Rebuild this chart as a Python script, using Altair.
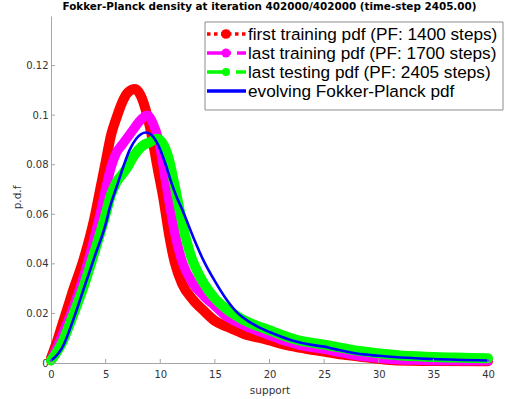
import altair as alt
import pandas as pd

# ---------------- data ----------------
red_x = [0, 0.5, 1, 1.5, 2, 3, 4, 4.5, 5, 5.5, 6, 6.5, 7, 7.7, 8.2, 8.8, 9.3, 9.7, 10.3, 10.8, 11.3,
         12, 13, 14, 15, 16, 17, 18, 19, 20, 21, 22, 23, 24, 25, 26, 27, 28, 29, 30, 31, 33, 35, 40]
red_y = [0.002, 0.008, 0.015, 0.022, 0.029, 0.042, 0.059, 0.070, 0.081, 0.092, 0.099, 0.105, 0.109, 0.1105,
         0.108, 0.100, 0.090, 0.080, 0.066, 0.052, 0.041, 0.032, 0.0255, 0.021, 0.017, 0.0148, 0.013,
         0.0112, 0.0102, 0.0091, 0.0078, 0.0068, 0.006, 0.0052, 0.0046, 0.0038, 0.0032, 0.0027, 0.0022,
         0.0017, 0.0012, 0.0009, 0.0008, 0.0007]

mag_x = [0, 1, 2, 3, 4, 4.5, 5, 5.5, 6, 6.5, 7, 7.5, 8, 8.8, 9.3, 9.9, 10.4, 10.9, 11.4, 12, 13, 14,
         15, 16, 17, 18, 19, 20, 21, 22, 23, 24, 25, 26, 27, 28, 29, 30, 31, 33, 35, 40]
mag_y = [0.001, 0.011, 0.022, 0.035, 0.051, 0.060, 0.070, 0.079, 0.085, 0.088, 0.091, 0.094, 0.097,
         0.100, 0.097, 0.089, 0.076, 0.063, 0.051, 0.041, 0.032, 0.027, 0.023, 0.019, 0.0165, 0.0145,
         0.0128, 0.0112, 0.0095, 0.0082, 0.007, 0.0062, 0.0056, 0.0046, 0.0038, 0.003, 0.0025, 0.002,
         0.0015, 0.0012, 0.001, 0.0009]

grn_x = [0, 1, 2, 3, 4, 5, 5.5, 6, 6.5, 7, 7.5, 8, 8.5, 9, 9.7, 10.3, 10.8, 11.3, 11.8, 12.3, 12.9,
         13.5, 14, 15, 16, 17, 18, 19, 20, 21, 22, 23, 24, 25, 26, 27, 28, 29, 30, 31, 32, 33, 34, 35,
         37, 40]
grn_y = [0.001, 0.008, 0.019, 0.031, 0.045, 0.060, 0.068, 0.073, 0.076, 0.079, 0.083, 0.086, 0.088,
         0.089, 0.0905, 0.088, 0.082, 0.072, 0.061, 0.051, 0.042, 0.036, 0.032, 0.026, 0.022, 0.019,
         0.0165, 0.0148, 0.0132, 0.0115, 0.010, 0.0088, 0.0081, 0.0074, 0.0066, 0.0058, 0.005, 0.0045,
         0.0039, 0.0034, 0.003, 0.0028, 0.0026, 0.0024, 0.0022, 0.0019]

blu_x = [0, 0.5, 1, 2, 3, 4, 5, 5.4, 6, 6.6, 7.2, 7.8, 8.7, 9.2, 9.8, 10.5, 11, 11.5, 12, 13, 14, 15,
         16, 17, 18, 19, 20, 22, 24, 25, 26, 28, 30, 32, 35, 40]
blu_y = [0.001, 0.003, 0.006, 0.017, 0.030, 0.043, 0.056, 0.063, 0.071, 0.079, 0.086, 0.0905, 0.093,
         0.092, 0.088, 0.080, 0.073, 0.067, 0.062, 0.051, 0.041, 0.033, 0.026, 0.0205, 0.017, 0.0145,
         0.0125, 0.0092, 0.0072, 0.0066, 0.0056, 0.0038, 0.0029, 0.0022, 0.0016, 0.001]

series_labels = ["first training pdf (PF: 1400 steps)",
                 "last training pdf (PF: 1700 steps)",
                 "last testing pdf (PF: 2405 steps)",
                 "evolving Fokker-Planck pdf"]
series_colors = ["#ff0000", "#ff00ff", "#00ff00", "#0000ff"]

x_ticks = [0, 5, 10, 15, 20, 25, 30, 35, 40]
y_ticks = [0, 0.02, 0.04, 0.06, 0.08, 0.1, 0.12]

title_text = "Fokker-Planck density at iteration 402000/402000 (time-step 2405.00)"

# ---------------- chart ----------------
W, H = 437, 347
AX = "#a6a6a6"
LBL = "#333333"

xs = alt.Scale(domain=[0, 40], nice=False)
ys = alt.Scale(domain=[0, 0.14], nice=False)

x_axis = alt.Axis(values=x_ticks, format="~g", title="support", grid=False, ticks=False, tickSize=0,
                  domainColor=AX, labelColor=LBL, labelFont="DejaVu Sans", labelFontSize=10,
                  labelFlush=False, labelOverlap=False,
                  labelPadding=6, titleFont="DejaVu Sans", titleFontSize=10.5, titleFontWeight="normal",
                  titleColor=LBL, titleY=27, titleBaseline="middle")
y_axis = alt.Axis(values=y_ticks, format="~g", title="p.d.f", grid=False, ticks=False, tickSize=0,
                  domainColor=AX, labelColor=LBL, labelFont="DejaVu Sans", labelFontSize=10,
                  labelFlush=False, labelOverlap=False,
                  labelPadding=3, titleFont="DejaVu Sans", titleFontSize=10.5, titleFontWeight="normal",
                  titleColor=LBL, titleX=-34, titleY=181, titleBaseline="middle", titleAlign="center")


def curve(xv, yv, color, width):
    df = pd.DataFrame({"x": xv, "y": yv})
    return alt.Chart(df).mark_line(color=color, strokeWidth=width, strokeCap="round",
                                   strokeJoin="round", interpolate="monotone").encode(
        x=alt.X("x:Q", scale=xs, axis=x_axis),
        y=alt.Y("y:Q", scale=ys, axis=y_axis),
    )


layers = [
    curve(red_x, red_y, series_colors[0], 10),
    curve(mag_x, mag_y, series_colors[1], 9.5),
    curve(grn_x, grn_y, series_colors[2], 10),
    curve(blu_x, blu_y, series_colors[3], 2.6),
]

# inward ticks (MATLAB style)
xt = alt.Chart(pd.DataFrame({"x": x_ticks})).mark_rule(color=AX, strokeWidth=1).encode(
    x=alt.X("x:Q", scale=xs, axis=x_axis), y=alt.value(H), y2=alt.value(H - 4))
yt = alt.Chart(pd.DataFrame({"y": y_ticks})).mark_rule(color=AX, strokeWidth=1).encode(
    y=alt.Y("y:Q", scale=ys, axis=y_axis), x=alt.value(0), x2=alt.value(4))
layers += [xt, yt]

# legend box
one = pd.DataFrame({"a": [0]})
box = alt.Chart(one).mark_rect(fill="white", stroke="#8c8c8c", strokeWidth=1).encode(
    x=alt.value(154), x2=alt.value(452), y=alt.value(6), y2=alt.value(94))
layers.append(box)

row_y = [18, 37, 56, 75]
dashes = [[3.5, 3.5], [24, 6], [22, 7], None]
msizes = [95, 80, 65, 0]
for i in range(4):
    kw = dict(color=series_colors[i], strokeWidth=3.6)
    if dashes[i] is not None:
        kw["strokeDash"] = dashes[i]
    layers.append(alt.Chart(one).mark_rule(**kw).encode(
        x=alt.value(156), x2=alt.value(195), y=alt.value(row_y[i])))
    if msizes[i]:
        layers.append(alt.Chart(one).mark_point(filled=True, shape="circle", opacity=1,
                                                color=series_colors[i], size=msizes[i]).encode(
            x=alt.value(175), y=alt.value(row_y[i])))
    layers.append(alt.Chart(pd.DataFrame({"t": [series_labels[i]]})).mark_text(
        align="left", baseline="middle", font="Liberation Sans", fontSize=17.2, color="black").encode(
        x=alt.value(197), y=alt.value(row_y[i] + 0.5), text="t:N"))

chart = alt.layer(*layers).properties(
    width=W, height=H,
    title=alt.TitleParams(text=title_text, font="DejaVu Sans", fontSize=10.4, fontWeight="bold",
                          anchor="middle", frame="group", offset=4, color="black"),
    padding={"left": 51, "top": 16, "right": 17, "bottom": 36},
    autosize=alt.AutoSizeParams(type="none"),
).configure(background="white").configure_view(stroke=None)

chart.save("out.html", embed_options={"renderer": "svg", "actions": False})
